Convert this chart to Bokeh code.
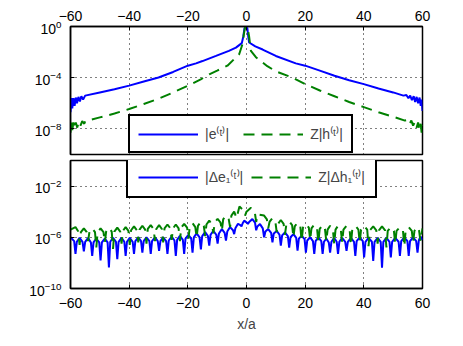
import numpy as np
from bokeh.plotting import figure
from bokeh.layouts import column
from bokeh.models import (FixedTicker, Legend, LegendItem, Range1d)
from bokeh.embed import file_html
from bokeh.resources import INLINE

# ---------------- data ----------------
x_ticks = [-60, -40, -20, 0, 20, 40, 60]
x_tick_labels = ["\u221260", "\u221240", "\u221220", "0", "20", "40", "60"]
top_y_ticks = [1e-8, 1e-4, 1e0]
bot_y_ticks = [1e-10, 1e-6, 1e-2]

# top panel: |e(t)|  (log10 values)
top_x_e = [-60, -59.7, -59.4, -59.0, -58.6, -58.2, -57.8, -57.3, -56.8, -56.3,
           -55.7, -55.0, -50, -45, -40, -35, -30, -25, -20, -17.2,
           -15, -10.4, -6, -3.6, -1.6, -1.1, -0.7, -0.2, 0.3, 0.6,
           0.9, 3, 5.5, 10, 16.8, 20, 25, 30, 35, 40,
           45, 50, 53.5, 54.5, 55.2, 55.8, 56.4, 57.0, 57.5, 58.0,
           58.5, 59.0, 59.4, 59.7, 60]
top_log_e = [-6.7, -5.6, -6.4, -5.6, -6.2, -5.55, -6.0, -5.5, -5.85, -5.45,
             -5.7, -5.4, -5.15, -4.9, -4.62, -4.3, -3.98, -3.55, -3.06, -2.88,
             -2.7, -2.3, -1.9, -1.65, -1.3, -0.8, -0.15, 0.0, -0.15, -0.8,
             -1.25, -1.55, -1.8, -2.3, -2.88, -3.06, -3.45, -3.85, -4.2, -4.5,
             -4.85, -5.15, -5.4, -5.35, -5.6, -5.4, -5.75, -5.45, -5.9, -5.5,
             -6.0, -5.55, -6.2, -5.7, -6.6]

# top panel: Z|h(t)|  (log10 values)
top_x_h = [-60, -59.7, -59.4, -59.0, -58.6, -58.2, -57.7, -57.2, -56.6, -56.0,
           -55.3, -55.0, -50, -45, -40, -35, -30, -25, -20, -15.6,
           -12.7, -10, -6.5, -2.5, -1.4, -0.9, -0.5, 0.0, 0.4, 0.9,
           1.5, 3.2, 7.1, 10, 15.7, 20, 25, 30, 35, 40,
           45, 50, 54, 55, 55.6, 56.2, 56.8, 57.4, 58.0, 58.5,
           59.0, 59.4, 59.7, 60]
top_log_h = [-8.3, -7.5, -8.1, -7.5, -8.0, -7.5, -7.9, -7.45, -7.75, -7.4,
             -7.6, -7.4, -7.1, -6.8, -6.45, -6.05, -5.65, -5.15, -4.63, -4.13,
             -3.74, -3.45, -3.06, -2.17, -1.4, -0.6, -0.1, 0.0, -0.1, -0.8,
             -1.9, -2.4, -3.1, -3.5, -4.0, -4.5, -5.0, -5.45, -5.9, -6.3,
             -6.7, -7.05, -7.35, -7.3, -7.6, -7.35, -7.75, -7.45, -7.9, -7.5,
             -8.1, -7.6, -8.3, -7.7]

# bottom panel: |Δe1(t)|  as (x/a, log10 value) points
bot_pts_e = [
    (-60, -6.0),
    (-58.75, -6.3), (-58.3, -7.3), (-57.85, -6.35), (-56.9, -6.05),
    (-55.9, -6.35), (-55.45, -7.1), (-55.0, -6.35), (-54.0, -6.05),
    (-53.05, -6.4), (-52.6, -7.45), (-52.15, -6.4), (-51.2, -6.1),
    (-50.2, -6.4), (-49.75, -7.8), (-49.3, -6.4), (-48.3, -6.1),
    (-47.35, -6.4), (-46.9, -8.35), (-46.45, -6.35), (-45.5, -6.05),
    (-44.5, -6.35), (-44.05, -7.7), (-43.6, -6.35), (-42.6, -6.05),
    (-41.65, -6.35), (-41.2, -7.45), (-40.75, -6.35), (-39.8, -6.05),
    (-38.8, -6.35), (-38.35, -7.3), (-37.9, -6.3), (-36.9, -6.0),
    (-35.95, -6.3), (-35.5, -7.2), (-35.05, -6.3), (-34.1, -6.0),
    (-33.1, -6.3), (-32.65, -7.3), (-32.2, -6.3), (-31.2, -6.0),
    (-30.25, -6.3), (-29.8, -7.06), (-29.35, -6.3), (-28.4, -6.0),
    (-27.4, -6.3), (-26.95, -7.3), (-26.5, -6.25), (-25.5, -5.95),
    (-24.55, -6.25), (-24.1, -7.45), (-23.65, -6.2), (-22.7, -5.88),
    (-21.7, -6.2), (-21.25, -7.3), (-20.8, -6.1), (-19.8, -5.8),
    (-18.85, -6.1), (-18.4, -7.2), (-17.95, -6.0), (-17.0, -5.7),
    (-16.0, -6.0), (-15.55, -6.95), (-15.1, -5.9), (-14.1, -5.6),
    (-13.15, -5.9), (-12.7, -6.65), (-12.25, -5.8), (-11.3, -5.5),
    (-10.3, -5.8), (-9.85, -6.5), (-9.4, -5.7), (-8.4, -5.36),
    (-7.45, -5.65), (-7.0, -6.25), (-6.55, -5.55), (-5.6, -5.2),
    (-4.6, -5.45), (-4.2, -5.75), (-3.8, -5.3), (-2.9, -4.95),
    (-2.1, -5.05), (-1.7, -5.15), (-1.3, -4.9), (-0.8, -4.7),
    (0.1, -4.85), (0.5, -4.95), (0.9, -4.8), (2.0, -4.58),
    (2.9, -4.85), (3.3, -5.45), (3.7, -5.15), (4.6, -4.97),
    (5.55, -5.3), (6.0, -6.0), (6.45, -5.55), (7.4, -5.36),
    (8.4, -5.65), (8.85, -6.4), (9.3, -5.7), (10.3, -5.5),
    (11.25, -5.8), (11.7, -6.65), (12.15, -5.85), (13.1, -5.62),
    (14.1, -5.9), (14.55, -6.8), (15.0, -6.0), (16.0, -5.75),
    (16.95, -6.05), (17.4, -7.05), (17.85, -6.1), (18.8, -5.88),
    (19.8, -6.15), (20.25, -7.2), (20.7, -6.25), (21.7, -6.0),
    (22.65, -6.3), (23.1, -7.3), (23.55, -6.3), (24.5, -6.0),
    (25.5, -6.3), (25.95, -7.3), (26.4, -6.35), (27.2, -6.1),
    (28.05, -6.4), (28.5, -7.2), (28.95, -6.35), (29.9, -6.05),
    (30.75, -6.35), (31.2, -7.3), (31.65, -6.35), (32.6, -6.05),
    (33.65, -6.35), (34.1, -7.06), (34.55, -6.35), (35.6, -6.05),
    (36.65, -6.35), (37.1, -7.45), (37.55, -6.3), (38.6, -6.0),
    (39.65, -6.3), (40.1, -7.58), (40.55, -6.35), (41.6, -6.05),
    (42.75, -6.35), (43.2, -7.84), (43.65, -6.35), (44.7, -6.05),
    (45.75, -6.35), (46.2, -8.37), (46.65, -6.35), (47.7, -6.05),
    (48.75, -6.35), (49.2, -7.58), (49.65, -6.35), (50.7, -6.05),
    (51.85, -6.35), (52.3, -7.45), (52.75, -6.3), (53.8, -6.0),
    (54.85, -6.3), (55.3, -7.45), (55.75, -6.3), (56.8, -6.0),
    (57.85, -6.3), (58.3, -7.2), (58.75, -6.25), (59.3, -5.95),
    (60, -6.2),
]

# bottom panel: Z|Δh1(t)|  as (x/a, log10 value) points
bot_pts_h = [
    (-60, -5.4), (-58.3, -5.2),
    (-57.35, -5.55), (-56.9, -6.6), (-56.45, -5.6), (-55.45, -5.3),
    (-54.45, -5.6), (-54.0, -6.3), (-53.55, -5.6), (-52.6, -5.3),
    (-51.65, -5.6), (-51.2, -6.8), (-50.75, -5.6), (-49.75, -5.3),
    (-48.75, -5.6), (-48.3, -6.4), (-47.85, -5.55), (-46.9, -5.25),
    (-45.95, -5.55), (-45.5, -6.9), (-45.05, -5.55), (-44.05, -5.25),
    (-43.05, -5.55), (-42.6, -6.5), (-42.15, -5.5), (-41.2, -5.2),
    (-40.25, -5.5), (-39.8, -6.6), (-39.35, -5.45), (-38.35, -5.15),
    (-37.35, -5.45), (-36.9, -6.4), (-36.45, -5.4), (-35.5, -5.1),
    (-34.55, -5.4), (-34.1, -6.5), (-33.65, -5.35), (-32.65, -5.05),
    (-31.65, -5.35), (-31.2, -6.3), (-30.75, -5.35), (-29.8, -5.05),
    (-28.85, -5.35), (-28.4, -6.4), (-27.95, -5.3), (-26.95, -5.0),
    (-25.95, -5.3), (-25.5, -6.2), (-25.05, -5.3), (-24.1, -5.0),
    (-23.15, -5.3), (-22.7, -6.3), (-22.25, -5.25), (-21.25, -4.95),
    (-20.25, -5.25), (-19.8, -6.1), (-19.35, -5.2), (-18.4, -4.9),
    (-17.45, -5.2), (-17.0, -6.0), (-16.55, -5.1), (-15.55, -4.8),
    (-14.55, -5.1), (-14.1, -5.9), (-13.65, -5.0), (-12.7, -4.7),
    (-11.75, -5.0), (-11.3, -5.7), (-10.85, -4.85), (-9.85, -4.55),
    (-8.85, -4.85), (-8.4, -5.5), (-7.95, -4.6), (-7.0, -4.3),
    (-6.05, -4.6), (-5.6, -5.2), (-5.15, -4.3), (-4.2, -4.0),
    (-3.4, -4.5), (-2.4, -3.6),
    (-1.0, -3.9), (-0.5, -4.3), (0.0, -4.0), (1.5, -3.7),
    (2.8, -4.0), (3.3, -4.8), (3.8, -4.2), (6.0, -4.3),
    (6.95, -4.6), (7.4, -5.3), (7.85, -4.8), (8.85, -4.5),
    (9.85, -4.8), (10.3, -5.6), (10.75, -4.95), (11.7, -4.65),
    (12.65, -4.95), (13.1, -5.8), (13.55, -5.05), (14.55, -4.75),
    (15.55, -5.05), (16.0, -6.0), (16.45, -5.15), (17.4, -4.85),
    (18.35, -5.15), (18.8, -6.3), (19.25, -5.25), (20.25, -4.95),
    (21.25, -5.25), (21.7, -6.2), (22.15, -5.3), (23.1, -5.0),
    (24.05, -5.3), (24.5, -6.4), (24.95, -5.35), (25.95, -5.05),
    (26.75, -5.35), (27.2, -6.3), (27.65, -5.4), (28.5, -5.1),
    (29.45, -5.4), (29.9, -6.5), (30.35, -5.4), (31.2, -5.1),
    (32.15, -5.4), (32.6, -6.4), (33.05, -5.4), (34.1, -5.1),
    (35.15, -5.4), (35.6, -6.6), (36.05, -5.4), (37.1, -5.1),
    (38.15, -5.4), (38.6, -6.4), (39.05, -5.4), (40.1, -5.1),
    (41.15, -5.4), (41.6, -6.7), (42.05, -5.45), (43.2, -5.15),
    (44.25, -5.45), (44.7, -6.5), (45.15, -5.45), (46.2, -5.15),
    (47.25, -5.45), (47.7, -6.8), (48.15, -5.5), (49.2, -5.2),
    (50.25, -5.5), (50.7, -6.5), (51.15, -5.5), (52.3, -5.2),
    (53.35, -5.5), (53.8, -6.7), (54.25, -5.5), (55.3, -5.2),
    (56.35, -5.5), (56.8, -6.4), (57.25, -5.5), (58.3, -5.2),
    (58.85, -5.5), (59.3, -6.3), (60, -5.3),
]

labels_top = ["|e\u207d\u1d57\u207e|", "Z|h\u207d\u1d57\u207e|"]
labels_bot = ["|\u0394e\u2081\u207d\u1d57\u207e|", "Z|\u0394h\u2081\u207d\u1d57\u207e|"]

BLUE = "#0000ff"
GREEN = "#008000"
FONT = "Liberation Sans"
FS = "14px"
DASH = "11 7"

overrides = {float(t): l for t, l in zip(x_ticks, x_tick_labels)}


def style_axis(ax):
    ax.major_tick_in = 4
    ax.major_tick_out = 0
    ax.minor_tick_line_color = None
    ax.major_tick_line_color = "black"
    ax.axis_line_color = "black"
    ax.axis_line_width = 1.5
    ax.major_label_text_font = FONT
    ax.major_label_text_color = "black"
    ax.major_label_text_font_size = FS


def make_fig(y_ticks, xloc, mbt, mbb):
    p = figure(frame_width=352, frame_height=128,
               x_range=Range1d(-60, 60), y_range=Range1d(1e-10, 1),
               y_axis_type="log", x_axis_location=xloc,
               output_backend="svg", toolbar_location=None,
               min_border_left=70, min_border_right=34,
               min_border_top=mbt, min_border_bottom=mbb,
               background_fill_color="white", border_fill_color="white")
    p.outline_line_color = "black"
    p.outline_line_width = 1.5
    p.xaxis.ticker = FixedTicker(ticks=x_ticks)
    p.xaxis.major_label_overrides = overrides
    p.yaxis.ticker = FixedTicker(ticks=y_ticks)
    for ax in p.xaxis:
        style_axis(ax)
    for ax in p.yaxis:
        style_axis(ax)
    p.yaxis.major_label_standoff = 9
    p.xgrid.ticker = FixedTicker(ticks=x_ticks)
    p.ygrid.ticker = FixedTicker(ticks=y_ticks)
    for g in (p.xgrid, p.ygrid):
        g.grid_line_color = "black"
        g.grid_line_dash = "1 4"
        g.grid_line_width = 1
    return p


def make_legend(renderers, labels, loc, padding, spacing):
    lg = Legend(items=[LegendItem(label=l, renderers=[r]) for l, r in zip(labels, renderers)],
                orientation="horizontal", location=loc, margin=0,
                padding=padding, spacing=spacing, glyph_width=60, glyph_height=16,
                label_standoff=7, label_text_font=FONT, label_text_font_size=FS,
                border_line_color="black", border_line_width=2, border_line_alpha=1.0,
                background_fill_color="white", background_fill_alpha=1.0)
    return lg


# ---------------- top panel ----------------
p1 = make_fig(top_y_ticks, "above", 26, 3)
p1.xaxis.major_label_standoff = 6
r1 = p1.line(top_x_e, 10 ** np.array(top_log_e), line_color=BLUE, line_width=2)
r2 = p1.line(top_x_h, 10 ** np.array(top_log_h), line_color=GREEN, line_width=2,
             line_dash=DASH)
p1.add_layout(make_legend([r1, r2], labels_top, (58, 1), 8, 14))

# ---------------- bottom panel ----------------
p2 = make_fig(bot_y_ticks, "below", 3, 42)
p2.xaxis.major_label_standoff = 9
ax = p2.xaxis[0]
ax.axis_label = "x/a"
ax.axis_label_text_font = FONT
ax.axis_label_text_font_size = FS
ax.axis_label_text_font_style = "normal"
ax.axis_label_standoff = 5
bx_e = [pt[0] for pt in bot_pts_e]
by_e = 10 ** np.array([pt[1] for pt in bot_pts_e])
bx_h = [pt[0] for pt in bot_pts_h]
by_h = 10 ** np.array([pt[1] for pt in bot_pts_h])
r3 = p2.line(bx_e, by_e, line_color=BLUE, line_width=2)
r4 = p2.line(bx_h, by_h, line_color=GREEN, line_width=2, line_dash=DASH)
p2.add_layout(make_legend([r3, r4], labels_bot, (56, 90), 10, 8))

layout = column(p1, p2, spacing=0)
open("out.html", "w").write(file_html(layout, INLINE))
